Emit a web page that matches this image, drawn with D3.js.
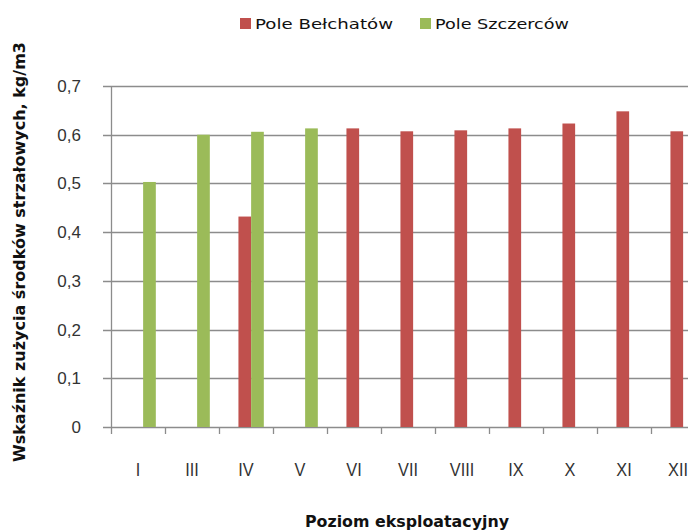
<!DOCTYPE html>
<html>
<head>
<meta charset="utf-8">
<script src="https://cdn.jsdelivr.net/npm/d3@7"></script>
<style>
  body { margin: 0; background: #fff; }
  svg { display: block; }
</style>
</head>
<body>
<script>
const categories = ['I', 'III', 'IV', 'V', 'VI', 'VII', 'VIII', 'IX', 'X', 'XI', 'XII'];
const belchatow = [null, null, 0.432, null, 0.613, 0.607, 0.609, 0.613, 0.623, 0.648, 0.607];
const szczercow = [0.503, 0.600, 0.606, 0.613, null, null, null, null, null, null, null];
const yTicks = [0, 0.1, 0.2, 0.3, 0.4, 0.5, 0.6, 0.7];
const seriesNames = ['Pole Bełchatów', 'Pole Szczerców'];

const width = 688;
const height = 531;
const red = '#c0504d';
const green = '#9bbb59';
const gridColor = '#8c8c8c';

const x = d3.scaleBand().domain(categories).range([111, 111 + 54 * categories.length]);
const y = d3.scaleLinear().domain([0, 0.7]).range([427, 86]);

const svg = d3.select('body').append('svg')
  .attr('width', width)
  .attr('height', height);

// grid lines
svg.append('g')
  .selectAll('line')
  .data(yTicks)
  .join('line')
    .attr('x1', 103)
    .attr('x2', width)
    .attr('y1', d => Math.round(y(d)) + 0.5)
    .attr('y2', d => Math.round(y(d)) + 0.5)
    .attr('stroke', gridColor)
    .attr('stroke-width', 1.3);

// y labels
svg.append('g')
  .selectAll('text')
  .data(yTicks)
  .join('text')
    .attr('x', 81)
    .attr('y', d => y(d) + 6)
    .attr('text-anchor', 'end')
    .attr('font-family', 'Liberation Sans, Arial, sans-serif')
    .attr('font-size', 17)
    .attr('fill', '#333')
    .text(d => d === 0 ? '0' : d3.format('.1f')(d).replace('.', ','));

const bw = x.bandwidth();

// bars
const series = [
  { values: belchatow, color: red, offset: 0.36 },
  { values: szczercow, color: green, offset: 0.595 }
];
series.forEach(s => {
  svg.append('g')
    .selectAll('rect')
    .data(categories.map((c, i) => ({ c, v: s.values[i] })).filter(d => d.v != null))
    .join('rect')
      .attr('x', d => x(d.c) + s.offset * bw)
      .attr('width', 0.235 * bw)
      .attr('y', d => y(d.v))
      .attr('height', d => y(0) - y(d.v))
      .attr('fill', s.color);
});

// axes
svg.append('line')
  .attr('x1', 111.5).attr('x2', 111.5)
  .attr('y1', y(0.7)).attr('y2', y(0))
  .attr('stroke', gridColor).attr('stroke-width', 1.3);

svg.append('g')
  .selectAll('line')
  .data(categories.concat(['end']))
  .join('line')
    .attr('x1', (d, i) => 111 + i * bw + 0.5)
    .attr('x2', (d, i) => 111 + i * bw + 0.5)
    .attr('y1', y(0))
    .attr('y2', y(0) + 7)
    .attr('stroke', gridColor)
    .attr('stroke-width', 1.3);

// narrow-looking category labels, like the original
svg.append('g')
  .selectAll('text')
  .data(categories)
  .join('text')
    .attr('transform', d => `translate(${x(d) + bw / 2},476) scale(0.86,1)`)
    .attr('text-anchor', 'middle')
    .attr('font-family', 'Liberation Sans, Arial, sans-serif')
    .attr('font-size', 19)
    .attr('fill', '#333')
    .text(d => d);

// axis titles
svg.append('text')
  .attr('x', 407)
  .attr('y', 527)
  .attr('text-anchor', 'middle')
  .attr('font-family', 'DejaVu Sans, sans-serif')
  .attr('font-weight', 'bold')
  .attr('font-size', 15)
  .attr('fill', '#111')
  .attr('textLength', 204)
  .attr('lengthAdjust', 'spacingAndGlyphs')
  .text('Poziom eksploatacyjny');

svg.append('text')
  .attr('transform', 'translate(25,252) rotate(-90)')
  .attr('text-anchor', 'middle')
  .attr('font-family', 'DejaVu Sans, sans-serif')
  .attr('font-weight', 'bold')
  .attr('font-size', 15)
  .attr('fill', '#111')
  .attr('textLength', 420)
  .attr('lengthAdjust', 'spacingAndGlyphs')
  .text('Wskaźnik zużycia środków strzałowych, kg/m3');

// legend
const legendX = [240, 420];
const legendW = [138, 134];
seriesNames.forEach((name, i) => {
  const g = svg.append('g').attr('transform', `translate(${legendX[i]},18)`);
  g.append('rect')
    .attr('width', 11).attr('height', 11)
    .attr('fill', i === 0 ? red : green);
  g.append('text')
    .attr('x', 15)
    .attr('y', 11)
    .attr('font-family', 'DejaVu Sans, sans-serif')
    .attr('font-size', 14)
    .attr('fill', '#111')
    .attr('textLength', legendW[i])
    .attr('lengthAdjust', 'spacingAndGlyphs')
    .text(name);
});
</script>
</body>
</html>
